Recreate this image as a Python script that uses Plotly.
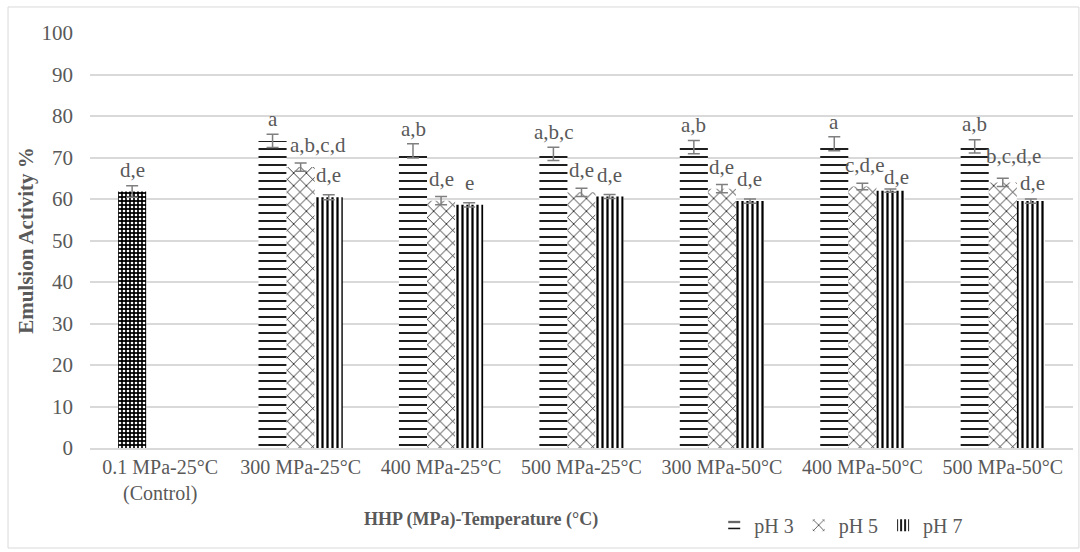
import plotly.graph_objects as go

# Treatment conditions (pressure - temperature)
categories = ["0.1 MPa-25°C<br>(Control)", "300 MPa-25°C", "400 MPa-25°C", "500 MPa-25°C",
              "300 MPa-50°C", "400 MPa-50°C", "500 MPa-50°C"]
treated = categories[1:]

# Emulsion activity (%) means and standard deviations
control_val = [61.8]
control_err = [1.4]
control_lbl = ["d,e"]

ph3_val = [74.0, 71.6, 70.9, 72.5, 73.3, 72.7]
ph3_err = [1.6, 1.7, 1.6, 1.6, 1.7, 1.6]
ph3_lbl = ["a", "a,b", "a,b,c", "a,b", "a", "a,b"]

ph5_val = [67.7, 59.6, 61.6, 62.5, 63.0, 64.0]
ph5_err = [1.0, 1.0, 1.0, 1.0, 0.8, 1.0]
ph5_lbl = ["a,b,c,d", "d,e", "d,e", "d,e", "c,d,e", "b,c,d,e"]

ph7_val = [60.4, 58.6, 60.6, 59.5, 62.0, 59.5]
ph7_err = [0.6, 0.5, 0.5, 0.5, 0.4, 0.5]
ph7_lbl = ["d,e", "e", "d,e", "d,e", "d,e", "d,e"]

FONT = "Liberation Serif, Times New Roman, serif"
TXT = "#595959"
ERR = dict(type="data", thickness=1.5, width=6, color="#7f7f7f")

fig = go.Figure()

def add_series(name, x, y, err, group, pattern, legend=True):
    fig.add_trace(go.Bar(
        name=name, x=x, y=y, offsetgroup=group, showlegend=legend,
        error_y=dict(array=err, **ERR),
        marker=dict(color="white", line=dict(width=0), pattern=pattern),
    ))

add_series("pH 3", treated, ph3_val, ph3_err, "g3",
           dict(shape="-", size=8, solidity=0.22, fgcolor="black", bgcolor="white", fillmode="replace"))
add_series("pH 5", treated, ph5_val, ph5_err, "g5",
           dict(shape="x", size=9, solidity=0.16, fgcolor="black", bgcolor="white", fillmode="replace"))
add_series("pH 7", treated, ph7_val, ph7_err, "g7",
           dict(shape="|", size=5, solidity=0.45, fgcolor="black", bgcolor="white", fillmode="replace"))
# the untreated control shares the first slot of its group
add_series("Control", categories[:1], control_val, control_err, "g3",
           dict(shape=".", size=4, solidity=0.35, fgcolor="white", bgcolor="black", fillmode="replace"),
           legend=False)

# Significance letters above each bar; a few long ones are nudged (px) to keep them readable
bar_px = 28
nudge = {("pH 5", 0): (17, 0), ("pH 5", 4): (3, 0), ("pH 7", 4): (6, -8),
         ("pH 5", 5): (11, 4), ("pH 7", 5): (2, -4)}
annotations = []
for name, xs, vals, lbls, shift in [("Control", categories[:1], control_val, control_lbl, -bar_px),
                                    ("pH 3", treated, ph3_val, ph3_lbl, -bar_px),
                                    ("pH 5", treated, ph5_val, ph5_lbl, 0),
                                    ("pH 7", treated, ph7_val, ph7_lbl, bar_px)]:
    for i, (xc, v, t) in enumerate(zip(xs, vals, lbls)):
        dx, dy = nudge.get((name, i), (0, 0))
        annotations.append(dict(x=xc, y=v, text=t, showarrow=False, xshift=shift + dx, yshift=22 + dy,
                                yanchor="middle", font=dict(family=FONT, size=21, color=TXT)))

annotations.append(dict(xref="paper", yref="paper", x=0.398, y=-0.173, text="<b>HHP (MPa)-Temperature (°C)</b>",
                        showarrow=False, xanchor="center", yanchor="middle",
                        font=dict(family=FONT, size=18, color=TXT)))

fig.update_layout(
    width=1080, height=552,
    margin=dict(l=90, r=7, t=33, b=104),
    paper_bgcolor="white", plot_bgcolor="white",
    barmode="group", bargap=0.40, bargroupgap=0,
    font=dict(family=FONT, size=20, color=TXT),
    annotations=annotations,
    legend=dict(orientation="h", x=0.635, y=-0.186, xanchor="left", yanchor="middle",
                font=dict(family=FONT, size=20, color=TXT), itemwidth=30,
                bgcolor="rgba(0,0,0,0)"),
    shapes=[dict(type="rect", xref="paper", yref="paper", x0=-0.0834, x1=1.006, y0=-0.241, y1=1.0627,
                 line=dict(color="#d9d9d9", width=1), layer="below")],
)
fig.update_xaxes(categoryorder="array", categoryarray=categories, showgrid=False,
                 showline=True, linecolor="#d9d9d9", linewidth=1.5, ticks="",
                 tickfont=dict(family=FONT, size=20, color=TXT))
fig.update_yaxes(range=[0, 100], dtick=10, showgrid=True, gridcolor="#d9d9d9", gridwidth=1.5,
                 zeroline=False, ticks="", ticklabelstandoff=16,
                 tickfont=dict(family=FONT, size=21, color=TXT),
                 title=dict(text="<b>Emulsion Activity %</b>", standoff=2,
                            font=dict(family=FONT, size=21, color=TXT)))

fig.write_html("out.html")
